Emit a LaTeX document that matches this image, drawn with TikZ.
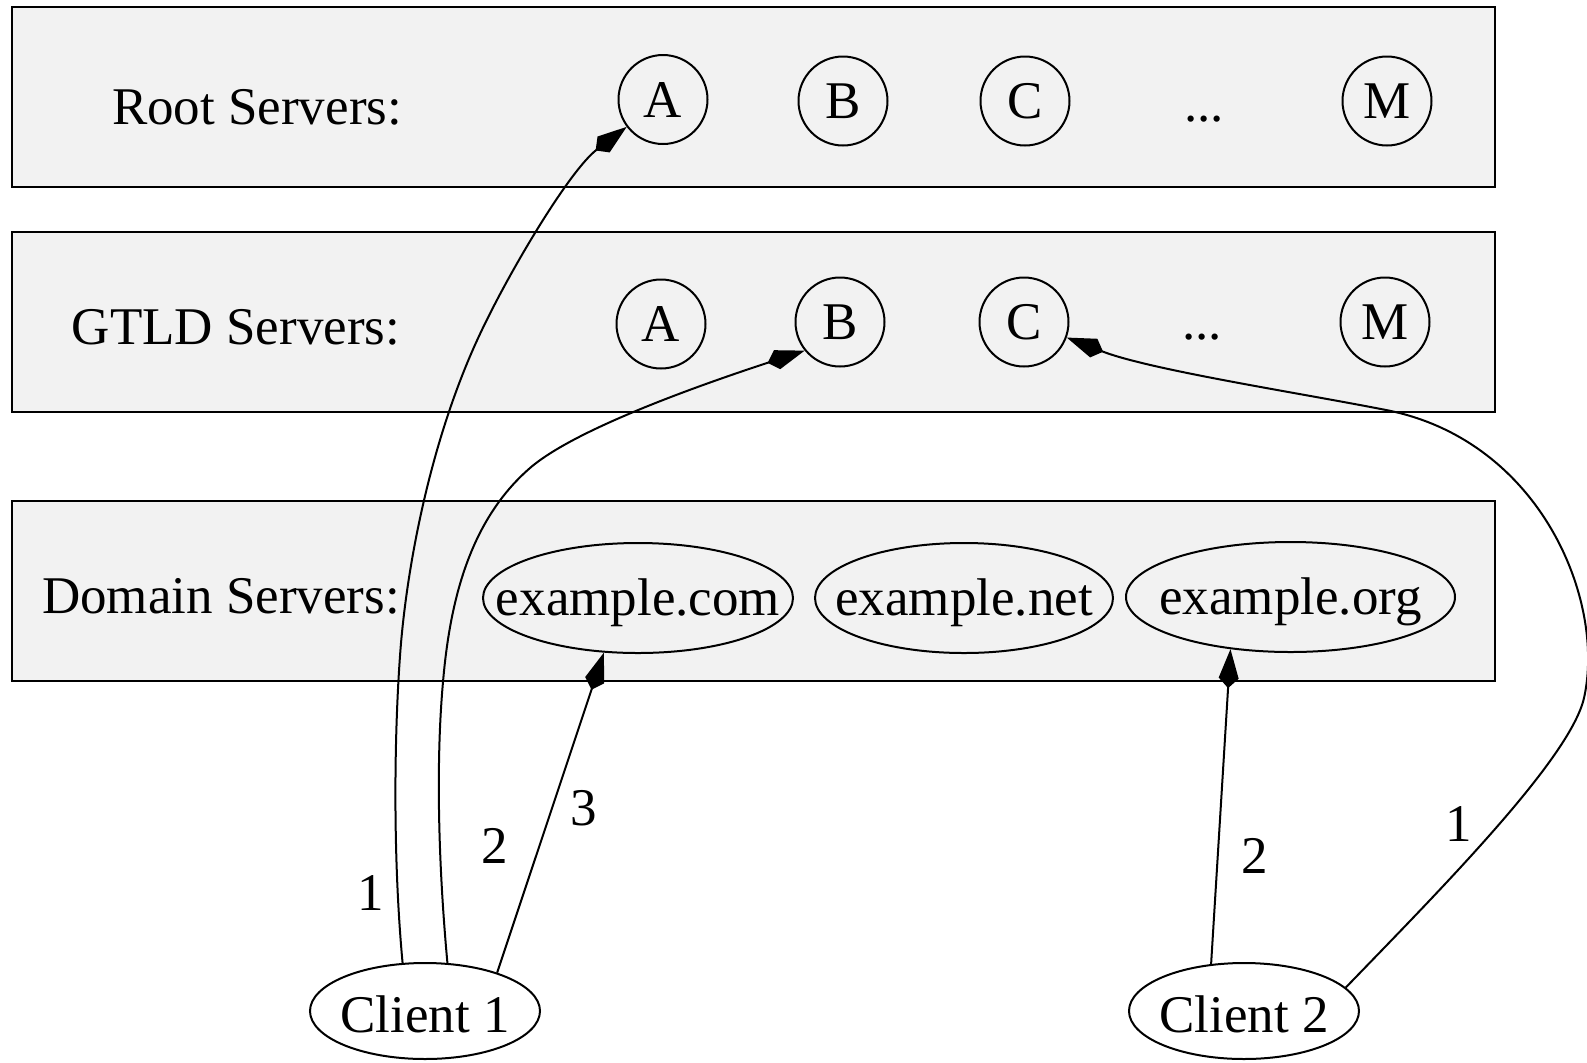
\documentclass[tikz,border=0pt]{standalone}
\usepackage{fontspec}
\setmainfont{Liberation Serif}
\usetikzlibrary{arrows.meta,shapes.geometric}
\definecolor{clustergray}{HTML}{F2F2F2}

\begin{document}
\begin{tikzpicture}[x=0.5pt,y=-0.5pt,
  every node/.style={font=\fontsize{26.5}{30}\selectfont},
  cluster/.style={draw=black, line width=1pt, fill=clustergray,
    minimum width=741.5pt, minimum height=90pt, inner sep=0pt},
  srv/.style={draw, circle, line width=1pt, minimum size=44.5pt, inner sep=0pt},
  dom/.style={draw, ellipse, line width=1pt, minimum height=55pt, inner sep=0pt},
  client/.style={draw, ellipse, line width=1pt, minimum width=115pt,
    minimum height=48pt, inner sep=0pt},
  txt/.style={anchor=base, inner sep=0pt},
  num/.style={inner sep=0pt},
  query/.style={line width=1pt, -{Kite[length=19.5pt,width=10pt,inset=5pt]}}
]
\useasboundingbox (0,0) rectangle (1587,1062);

% server tiers
\node[cluster] (rootbox) at (753.5,97) {};
\node[cluster] (gtldbox) at (753.5,322) {};
\node[cluster] (dombox)  at (753.5,591) {};

\node[txt] (rootlbl) at (257,124) {Root Servers:};
\node[txt] (gtldlbl) at (236,344) {GTLD Servers:};
\node[txt] (domlbl)  at (221,613) {Domain Servers:};

% root servers
\node[srv] (rA) at (663,99.5) {A};
\node[srv] (rB) at (843,101) {B};
\node[srv] (rC) at (1025,101) {C};
\node[txt] (rdots) at (1204,121) {...};
\node[srv] (rM) at (1387,101) {M};

% gTLD servers
\node[srv] (gA) at (661,324) {A};
\node[srv] (gB) at (840,322) {B};
\node[srv] (gC) at (1024,322) {C};
\node[txt] (gdots) at (1202,339) {...};
\node[srv] (gM) at (1385,322) {M};

% domain servers
\node[dom, minimum width=155pt] (com) at (638,598) {};
\node[txt] (comtxt) at ([yshift=-8.5pt]com.center) {example.com};
\node[dom, minimum width=149pt] (net) at (964,598) {};
\node[txt] (nettxt) at ([yshift=-8.5pt]net.center) {example.net};
\node[dom, minimum width=164.5pt] (org) at (1290.5,597) {};
\node[txt] (orgtxt) at ([yshift=-8.5pt]org.center) {example.org};

% clients
\node[client] (c1) at (425,1011) {};
\node[txt] (c1txt) at ([yshift=-10.5pt]c1.center) {Client 1};
\node[client] (c2) at (1244,1011) {};
\node[txt] (c2txt) at ([yshift=-10.5pt]c2.center) {Client 2};

% lookups of client 1
\draw[query] (c1.115) .. controls (393,860) and (394,740) .. (400,656)
  .. controls (406,570) and (430,440) .. (480,334)
  .. controls (510,270) and (570,170) .. (rA.217);
\draw[query] (c1.65) .. controls (438,860) and (436,760) .. (443,682)
  .. controls (450,600) and (470,520) .. (530,468)
  .. controls (575,429) and (700,385) .. (gB.219);
\draw[query] (c1.28) -- (com.238.4);

% lookups of client 2
\draw[query] (c2.125) -- (org.221.6);
\draw[query] (c2.13) .. controls (1440,890) and (1570,759) .. (1584,698)
  .. controls (1606,600) and (1540,440) .. (1386,410)
  .. controls (1300,393) and (1150,370) .. (gC.-20.6);

% step numbers
\node[num] (n1a) at (371,893) {1};
\node[num] (n2a) at (495,846) {2};
\node[num] (n3a) at (584,808) {3};
\node[num] (n2b) at (1255,856) {2};
\node[num] (n1b) at (1459,824) {1};
\end{tikzpicture}
\end{document}
